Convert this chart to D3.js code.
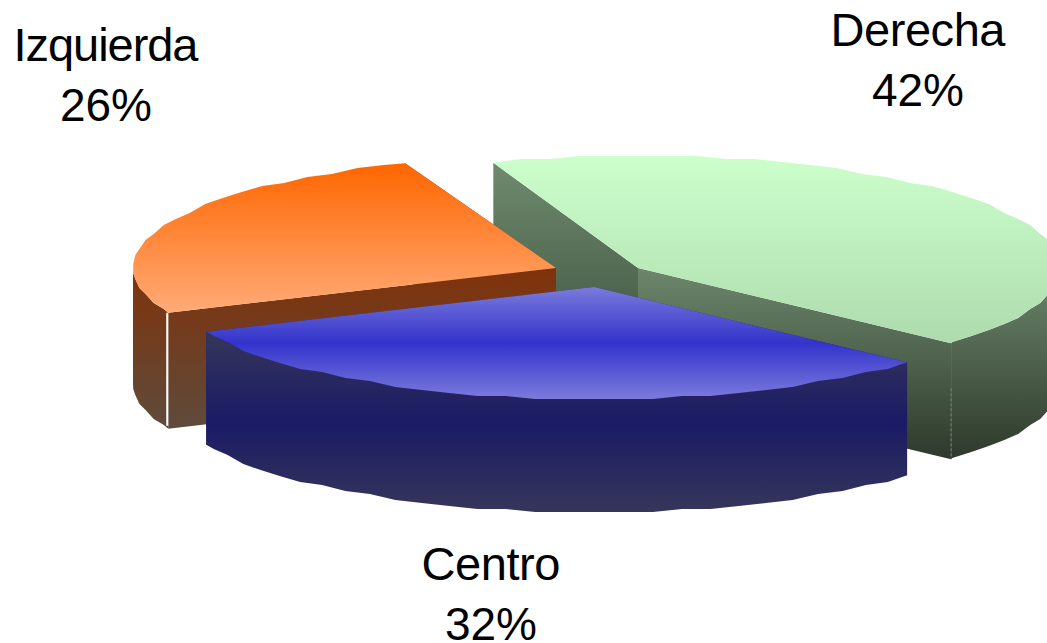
<!DOCTYPE html>
<html>
<head>
<meta charset="utf-8">
<script src="https://cdn.jsdelivr.net/npm/d3@7"></script>
<style>
html,body{margin:0;padding:0;background:#fff;overflow:hidden}
svg{display:block}
text{font-family:"Liberation Sans",Arial,sans-serif;fill:#000;text-anchor:middle}
.name{font-size:47px}
.pct{font-size:46px}
</style>
</head>
<body>
<svg id="chart" width="1047" height="643"></svg>
<script>
// Data
const categories = ["Derecha", "Centro", "Izquierda"];
const shares = [42.4, 31.8, 25.8];
const percentLabels = ["42%", "32%", "26%"];

// Layout and style of each slice, same order as the data
const apexX = [638, 594, 556];
const apexY = [268, 287, 268];
const depths = [116, 113, 116];
const labelX = [918, 491, 106];
const labelY = [46, 580, 61];
const labelWidth = [175, 139, 185];
const topStops = [
  [["0%", "#ccffcc"], ["100%", "#aedbae"]],
  [["0%", "#7b7bdc"], ["50%", "#3333cc"], ["100%", "#7b7bdc"]],
  [["0%", "#ff6600"], ["100%", "#ffab78"]]
];
const wallStops = [
  [["0%", "#6c876c"], ["100%", "#2e392b"]],
  [["0%", "#36365a"], ["50%", "#1a1a66"], ["100%", "#36365a"]],
  [["0%", "#80320a"], ["100%", "#5e4b3c"]]
];
const deg = Math.PI / 180;
const radiusX = 423, radiusY = 112, firstAngle = -20 * deg, sweep = 359.1 * deg;
const stepAngle = 4 * deg, jagStep = 3;

const svg = d3.select("#chart");
const defs = svg.append("defs");
const pie = d3.pie().sort(null).startAngle(firstAngle).endAngle(firstAngle + sweep);
const arcs = pie(shares);

const px = d3.scaleLinear().domain([-1, 1]).range([-radiusX, radiusX]);
const py = d3.scaleLinear().domain([-1, 1]).range([-radiusY, radiusY]);
const point = (i, t, drop = 0) => [
  apexX[i] + px(Math.sin(t)),
  Math.round((apexY[i] - py(Math.cos(t))) / jagStep) * jagStep + drop
];
const exact = (i, t, drop = 0) => [apexX[i] + px(Math.sin(t)), apexY[i] - py(Math.cos(t)) + drop];
const path = d3.line();

// Rim sampled on one shared angular grid, so top face and wall share edges
function rim(i, a, b, drop = 0) {
  const k0 = Math.ceil(a / stepAngle + 1e-6), k1 = Math.floor(b / stepAngle - 1e-6);
  const mid = d3.range(k0, k1 + 1).map(k => point(i, k * stepAngle, drop));
  return [exact(i, a, drop)].concat(mid, [exact(i, b, drop)]);
}
function gradient(id, stops, y1, y2) {
  const g = defs.append("linearGradient").attr("id", id)
    .attr("gradientUnits", "userSpaceOnUse")
    .attr("x1", 0).attr("x2", 0).attr("y1", y1).attr("y2", y2);
  stops.forEach(s => g.append("stop").attr("offset", s[0]).attr("stop-color", s[1]));
  return `url(#${id})`;
}
function poly(pts, fill) {
  svg.append("path").attr("d", path(pts) + "Z").attr("fill", fill);
}
function extent(pts) { return d3.extent(pts, p => p[1]); }

// Painting order: back slice, left slice, front slice
[0, 2, 1].forEach(i => {
  const a = arcs[i].startAngle, b = arcs[i].endAngle, d = depths[i];
  const apex = [apexX[i], apexY[i]], apexLow = [apexX[i], apexY[i] + d];

  const wallAt = (t, name) => {
    const pts = [apex, exact(i, t), exact(i, t, d), apexLow];
    const [y1, y2] = extent(pts);
    poly(pts, gradient(`wall-${name}-${i}`, i === 0 && name === "start"
      ? [["0%", "#6f8b6f"], ["100%", "#384a38"]] : wallStops[i], y1, y2));
  };
  wallAt(b, "end");
  wallAt(a, "start");

  // Outer rim: only the part turned toward the viewer
  const from = Math.max(a, Math.PI / 2), to = Math.min(b, 1.5 * Math.PI);
  if (to > from) {
    const upper = rim(i, from, to), lower = rim(i, from, to, d);
    const pts = upper.concat(lower.reverse());
    const wallEnd = exact(i, i === 0 ? b : a, d)[1];
    const [y1, y2] = i === 1 ? extent(pts) : [apexY[i], wallEnd];
    poly(pts, gradient(`rim-${i}`, wallStops[i], y1, y2));
  }

  // Top face
  const top = [apex].concat(rim(i, a, b));
  const [ty1, ty2] = extent(top);
  poly(top, gradient(`top-${i}`, topStops[i], ty1, ty2));

  // Seam where the rim meets the cut wall
  if (i === 2) {
    const s = exact(i, a), e = exact(i, a, d - 3);
    svg.append("line").attr("x1", s[0] - 1).attr("x2", s[0] - 1).attr("y1", s[1]).attr("y2", e[1])
      .attr("stroke", "#fff").attr("stroke-width", 2);
  }
  if (i === 0) {
    const s = exact(i, b, 45), e = exact(i, b, d);
    svg.append("line").attr("x1", s[0]).attr("x2", s[0]).attr("y1", s[1]).attr("y2", e[1])
      .attr("stroke", "#78887a").attr("stroke-width", 1).attr("stroke-dasharray", "3 2");
  }
});

// Labels
categories.forEach((c, i) => {
  svg.append("text").attr("class", "name").attr("x", labelX[i]).attr("y", labelY[i])
    .attr("textLength", labelWidth[i]).attr("lengthAdjust", "spacing").text(c);
  svg.append("text").attr("class", "pct").attr("x", labelX[i]).attr("y", labelY[i] + 60).text(percentLabels[i]);
});
</script>
</body>
</html>
